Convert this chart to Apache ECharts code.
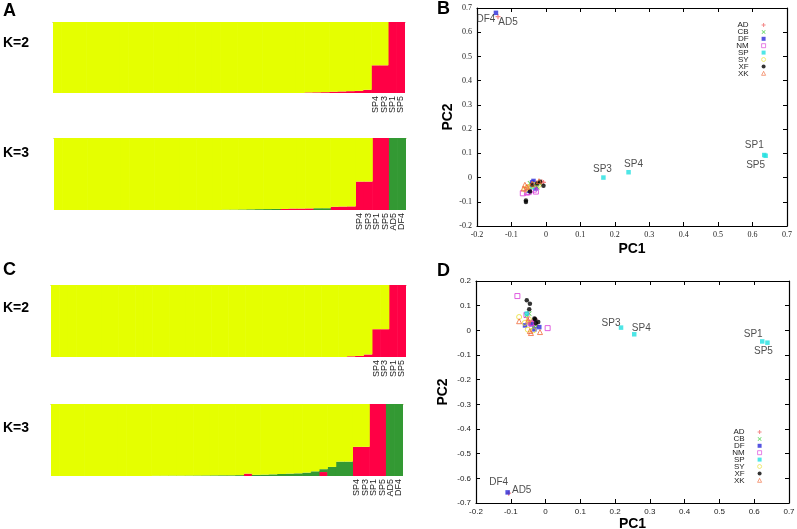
<!DOCTYPE html>
<html><head><meta charset="utf-8">
<script src="https://cdn.jsdelivr.net/npm/echarts/dist/echarts.min.js"></script>
<style>html,body{margin:0;padding:0;background:#fff}#c{width:797px;height:529px}</style>
</head><body><div id="c"></div>
<script>
// ---------- STRUCTURE bar data (42 individuals per plot) ----------
const aK2Labels = Array(38).fill('').concat(['SP4','SP3','SP1','SP5']);
const aK2Red = [0,0,0,0,0,0,0,0,0,0, 0,0,0,0,0,0,0,0,0,0, 0,0,0,0,0,0,0,0,0,0,
  .008,.01,.012,.018,.022,.026,.03,.045,.39,.39, 1,1];
const aK2Yellow = [1,1,1,1,1,1,1,1,1,1, 1,1,1,1,1,1,1,1,1,1, 1,1,1,1,1,1,1,1,1,1,
  .992,.99,.988,.982,.978,.974,.97,.955,.61,.61, 0,0];

const aK3Labels = Array(36).fill('').concat(['SP4','SP3','SP1','SP5','AD5','DF4']);
const aK3Red = [0,0,0,0,0,0,0,0,0,0, 0,0,0,0,0,0,0,0,0,0, 0,0,0,0,0,0,0,.015,.02,.02,
  .022,0,0,.045,.048,.05,.395,.395,1,1, 0,0];
const aK3Green = [0,0,0,0,0,0,0,0,0,0, 0,0,0,0,0,0,0,0,0,0, .005,.006,.008,.01,.012,.013,.015,0,0,0,
  0,.025,.025,0,0,0,0,0,0,0, 1,1];
const aK3Yellow = [1,1,1,1,1,1,1,1,1,1, 1,1,1,1,1,1,1,1,1,1, .995,.994,.992,.99,.988,.987,.985,.985,.98,.98,
  .978,.975,.975,.955,.952,.95,.605,.605,0,0, 0,0];

const cK2Labels = Array(38).fill('').concat(['SP4','SP3','SP1','SP5']);
const cK2Red = [0,0,0,0,0,0,0,0,0,0, 0,0,0,0,0,0,0,0,0,0, 0,0,0,0,0,0,0,0,0,0,
  0,0,0,0,0,.01,.015,.035,.386,.386, 1,1];
const cK2Yellow = [1,1,1,1,1,1,1,1,1,1, 1,1,1,1,1,1,1,1,1,1, 1,1,1,1,1,1,1,1,1,1,
  1,1,1,1,1,.99,.985,.965,.614,.614, 0,0];

const cK3Labels = Array(36).fill('').concat(['SP4','SP3','SP1','SP5','AD5','DF4']);
const cK3Red = [0,0,0,0,0,0,0,0,0,0, 0,0,0,0,0,0,0,0,0,0, 0,0,0,.033,0,0,0,0,0,0,
  0,0,.055,0,0,0,.405,.405,1,1, 0,0];
const cK3Green = [0,0,0,0,0,0,0,0,0,0, 0,0,.003,.004,.005,.005,.006,.007,.008,.009, .01,.01,.012,0,.016,.019,.023,.028,.033,.037,
  .047,.065,.04,.126,.2,.2,0,0,0,0, 1,1];
const cK3Yellow = [1,1,1,1,1,1,1,1,1,1, 1,1,.997,.996,.995,.995,.994,.993,.992,.991, .99,.99,.988,.967,.984,.981,.977,.972,.967,.963,
  .953,.935,.905,.874,.8,.8,.595,.595,0,0, 0,0];

// ---------- PCA data ----------
const groups = ['AD','CB','DF','NM','SP','SY','XF','XK'];
// panel B
const bAD = [[-0.139,0.664],[-0.012,-0.017],[-0.007,-0.02],[-0.028,-0.022],[-0.042,-0.035],[-0.052,-0.045]];
const bADNames = ['AD5'];
const bCB = [[-0.02,-0.022],[-0.032,-0.03],[-0.046,-0.024],[-0.025,-0.04]];
const bDF = [[-0.145,0.68],[-0.036,-0.014],[-0.04,-0.02],[-0.05,-0.055],[-0.03,-0.045]];
const bDFNames = ['DF4'];
const bNM = [[-0.067,-0.065],[-0.055,-0.062],[-0.029,-0.058],[-0.05,-0.06],[-0.035,-0.05]];
const bSP = [[0.167,0.0],[0.24,0.022],[0.634,0.093],[0.638,0.09],[-0.04,-0.04]];
const bSPNames = ['SP3','SP4','SP1','SP5'];
const bSY = [[-0.046,-0.037],[-0.055,-0.042],[-0.035,-0.03],[-0.06,-0.05],[-0.02,-0.03]];
const bXF = [[-0.058,-0.095],[-0.058,-0.101],[-0.046,-0.058],[-0.007,-0.034],[-0.017,-0.017],[-0.04,-0.03],[-0.025,-0.025]];
const bXK = [[-0.061,-0.03],[-0.055,-0.038],[-0.065,-0.045],[-0.04,-0.025],[-0.02,-0.015]];
// panel D
const dAD = [[-0.106,-0.66],[-0.05,0.04],[-0.04,0.035],[-0.03,0.045],[-0.045,0.025],[-0.025,0.02]];
const dADNames = ['AD5'];
const dCB = [[-0.047,0.068],[-0.035,0.013],[-0.028,0.02],[-0.055,0.06]];
const dDF = [[-0.109,-0.657],[-0.059,0.02],[-0.032,0.004],[-0.018,0.013],[-0.04,0.025]];
const dDFNames = ['DF4'];
const dNM = [[-0.081,0.139],[0.006,0.009],[-0.037,0.03],[-0.042,0.028],[-0.055,0.062]];
const dSP = [[0.217,0.011],[0.255,-0.016],[0.623,-0.045],[0.638,-0.05],[-0.054,0.068]];
const dSPNames = ['SP3','SP4','SP1','SP5'];
const dSY = [[-0.076,0.054],[-0.051,0.003],[-0.048,0.045],[-0.035,0.0],[-0.06,0.03]];
const dXF = [[-0.054,0.122],[-0.045,0.108],[-0.047,0.085],[-0.032,0.048],[-0.021,0.034],[-0.03,0.045],[-0.028,0.03]];
const dXK = [[-0.076,0.037],[-0.042,-0.011],[-0.016,-0.007],[-0.05,0.04],[-0.045,-0.003]];

// ---------- styles ----------
const YEL = '#e5ff00', RED = '#ff0045', GRN = '#339933';
const symPlus = 'path://M3,0H5V3H8V5H5V8H3V5H0V3H3Z';
const symCross = 'path://M1,0L4,3L7,0L8,1L5,4L8,7L7,8L4,5L1,8L0,7L3,4L0,1Z';
const gStyle = {
  AD: {symbol: symPlus, size: 5, itemStyle: {color: '#f06a6a'}},
  CB: {symbol: symCross, size: 5, itemStyle: {color: '#33cc33'}},
  DF: {symbol: 'rect', size: 4.5, itemStyle: {color: '#2a2ad8'}},
  NM: {symbol: 'rect', size: 5, itemStyle: {color: 'rgba(255,255,255,0)', borderColor: '#d838d8', borderWidth: 1}},
  SP: {symbol: 'rect', size: 4.5, itemStyle: {color: '#22e0e0'}},
  SY: {symbol: 'circle', size: 5, itemStyle: {color: 'rgba(255,255,255,0)', borderColor: '#e8e030', borderWidth: 1}},
  XF: {symbol: 'circle', size: 4.5, itemStyle: {color: '#000'}},
  XK: {symbol: 'triangle', size: 5, itemStyle: {color: 'rgba(255,255,255,0)', borderColor: '#f06a3a', borderWidth: 1}}
};
const labelOffsetB = {SP3:[-1,-8], SP4:[5,-8], SP1:[-10,-10], SP5:[-10,9], DF4:[-10,6], AD5:[10,6]};
const labelOffsetD = {SP3:[-10,-4], SP4:[7,-6], SP1:[-9,-7], SP5:[-4,9], DF4:[-9,-10], AD5:[13,-3]};

function pts(arr, names, offs) {
  return arr.map((p, i) => {
    const nm = names && names[i];
    if (!nm) return p;
    return {value: p, label: {show: true, formatter: nm, position: 'inside', offset: offs[nm],
      fontSize: 10, color: '#222', fontFamily: 'Liberation Sans'}};
  });
}

// ---------- layout ----------
const grids = [
  {left: 53, top: 22, width: 352, height: 71},
  {left: 54, top: 138, width: 352, height: 72},
  {left: 51, top: 285, width: 355, height: 72},
  {left: 51, top: 404, width: 352, height: 72},
  {left: 477, top: 8, width: 310, height: 218},
  {left: 476, top: 281, width: 313, height: 222}
].map(g => Object.assign({outerBoundsMode: 'none', containLabel: false}, g));

const barPanels = [
  {labels: aK2Labels, layers: [[RED, aK2Red], [YEL, aK2Yellow]]},
  {labels: aK3Labels, layers: [[RED, aK3Red], [GRN, aK3Green], [YEL, aK3Yellow]]},
  {labels: cK2Labels, layers: [[RED, cK2Red], [YEL, cK2Yellow]]},
  {labels: cK3Labels, layers: [[RED, cK3Red], [GRN, cK3Green], [YEL, cK3Yellow]]}
];

const xAxes = [], yAxes = [], series = [];
barPanels.forEach((p, i) => {
  xAxes.push({type: 'category', gridIndex: i, data: p.labels, axisLine: {show: false}, axisTick: {show: false},
    axisLabel: {interval: 0, rotate: 90, fontSize: 9, color: '#222', margin: 3, fontFamily: 'Liberation Sans'}});
  yAxes.push({type: 'value', gridIndex: i, min: 0, max: 1, show: false});
});
barPanels.forEach((p, i) => {
  xAxes.push({type: 'category', gridIndex: i, position: 'top', data: p.labels,
    axisLine: {show: true, lineStyle: {color: '#a8a850', width: 1}}, axisTick: {show: false}, axisLabel: {show: false}});
});
barPanels.forEach((p, i) => {
  p.layers.forEach(([col, vals]) => {
    series.push({type: 'bar', xAxisIndex: i, yAxisIndex: i, stack: 'k' + i, data: vals,
      barCategoryGap: 0, barWidth: 9, itemStyle: {color: col, borderWidth: 0}, silent: true});
  });
});

const tickFontB = {fontSize: 8, color: '#222', fontFamily: 'Liberation Serif'};
const tickFontD = {fontSize: 8, color: '#222', fontFamily: 'Liberation Sans'};
const nameStyle = {fontSize: 14, fontWeight: 'bold', color: '#000', fontFamily: 'Liberation Sans'};
function pcaAxes(gi, ymin, ymax, lab, xGap, yGap) {
  const line = {show: true, onZero: false, lineStyle: {color: '#000', width: 1.2}};
  const tick = {show: true, inside: true, length: 4, lineStyle: {color: '#000', width: 1}};
  const xi = xAxes.length, yi = yAxes.length;
  xAxes.push({type: 'value', gridIndex: gi, min: -0.2, max: 0.7, interval: 0.1, axisLine: line, axisTick: tick,
    axisLabel: Object.assign({margin: 5}, lab), splitLine: {show: false},
    name: 'PC1', nameLocation: 'middle', nameGap: xGap, nameTextStyle: nameStyle});
  xAxes.push({type: 'value', gridIndex: gi, position: 'top', min: -0.2, max: 0.7, interval: 0.1, axisLine: line,
    axisTick: tick, axisLabel: {show: false}, splitLine: {show: false}});
  yAxes.push({type: 'value', gridIndex: gi, min: ymin, max: ymax, interval: 0.1, axisLine: line, axisTick: tick,
    axisLabel: Object.assign({margin: 5}, lab), splitLine: {show: false},
    name: 'PC2', nameLocation: 'middle', nameGap: yGap, nameRotate: 90, nameTextStyle: nameStyle});
  yAxes.push({type: 'value', gridIndex: gi, position: 'right', min: ymin, max: ymax, interval: 0.1, axisLine: line,
    axisTick: tick, axisLabel: {show: false}, splitLine: {show: false}});
  return [xi, yi];
}
const [bx, by] = pcaAxes(4, -0.2, 0.7, tickFontB, 16, 22);
const [dx, dy] = pcaAxes(5, -0.7, 0.2, tickFontD, 13, 26);

const bData = {AD: [bAD, bADNames], CB: [bCB], DF: [bDF, bDFNames], NM: [bNM], SP: [bSP, bSPNames], SY: [bSY], XF: [bXF], XK: [bXK]};
const dData = {AD: [dAD, dADNames], CB: [dCB], DF: [dDF, dDFNames], NM: [dNM], SP: [dSP, dSPNames], SY: [dSY], XF: [dXF], XK: [dXK]};
[[bData, bx, by, labelOffsetB], [dData, dx, dy, labelOffsetD]].forEach(([dd, xi, yi, offs]) => {
  groups.forEach(g => {
    const st = gStyle[g];
    series.push({type: 'scatter', name: g, xAxisIndex: xi, yAxisIndex: yi,
      symbol: st.symbol, symbolSize: st.size, itemStyle: st.itemStyle,
      data: pts(dd[g][0], dd[g][1], offs), silent: true});
  });
});

const legendCommon = {data: groups, orient: 'vertical', align: 'right', itemWidth: 4, itemHeight: 4, itemGap: -1.1,
  padding: 0, selectedMode: false, itemStyle: {borderWidth: 0.8},
  textStyle: {fontSize: 8, color: '#222', fontFamily: 'Liberation Sans', lineHeight: 6, padding: [0, 8, 0, 0]}};

function txt(t, x, y, size) {
  return {type: 'text', x: x, y: y, silent: true,
    style: {text: t, fontSize: size, fontWeight: 'bold', fill: '#000', fontFamily: 'Liberation Sans', verticalAlign: 'middle', align: 'left'}};
}

const chart = echarts.init(document.getElementById('c'), null, {renderer: 'canvas'});
chart.setOption({
  animation: false,
  backgroundColor: '#fff',
  grid: grids,
  xAxis: xAxes,
  yAxis: yAxes,
  legend: [
    Object.assign({right: 31, top: 21}, legendCommon),
    Object.assign({right: 35, top: 428}, legendCommon)
  ],
  graphic: [
    txt('A', 3, 11, 18), txt('B', 437, 9, 18), txt('C', 3, 270, 18), txt('D', 437, 271, 18),
    txt('K=2', 3, 43, 14), txt('K=3', 3, 153, 14), txt('K=2', 3, 308, 14), txt('K=3', 3, 428, 14)
  ],
  series: series
});
</script></body></html>
